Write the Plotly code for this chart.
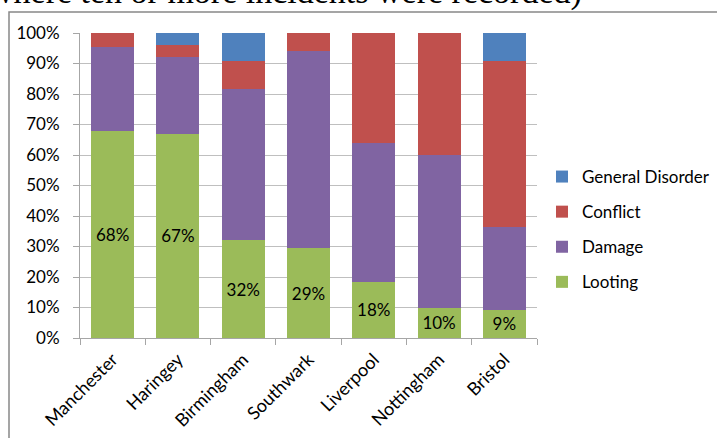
import plotly.graph_objects as go

cities = ["Manchester", "Haringey", "Birmingham", "Southwark", "Liverpool", "Nottingham", "Bristol"]
looting = [68, 67, 32, 29.5, 18.5, 10, 9.2]
damage = [27.3, 25, 49.7, 64.6, 45.3, 50, 27.1]
conflict = [4.7, 4, 9.2, 5.9, 36.2, 40, 54.6]
general_disorder = [0, 4, 9.1, 0, 0, 0, 9.1]
looting_labels = ["68%", "67%", "32%", "29%", "18%", "10%", "9%"]

colors = {
    "Looting": "#9BBB59",
    "Damage": "#8064A2",
    "Conflict": "#C0504D",
    "General Disorder": "#4F81BD",
}

W, H = 717, 438
L, R, T, B = 80, 180, 33, 100
pw, ph = W - L - R, H - T - B

def px_x(p):
    return (p - L) / pw

def px_y(p):
    return (H - B - p) / ph

fig = go.Figure()
fig.add_bar(x=cities, y=looting, name="Looting", marker_color=colors["Looting"],
            text=looting_labels, texttemplate="%{text}", textposition="inside",
            insidetextanchor="middle", textangle=0,
            textfont=dict(family="Lato", size=17, color="#000000"),
            legendgroup="a", legendrank=4)
fig.add_bar(x=cities, y=damage, name="Damage", marker_color=colors["Damage"],
            legendgroup="b", legendrank=3)
fig.add_bar(x=cities, y=conflict, name="Conflict", marker_color=colors["Conflict"],
            legendgroup="c", legendrank=2)
fig.add_bar(x=cities, y=general_disorder, name="General Disorder",
            marker_color=colors["General Disorder"], legendgroup="d", legendrank=1)

fig.update_traces(marker_line_width=0, hoverinfo="skip")

fig.update_layout(
    width=W, height=H,
    margin=dict(l=L, r=R, t=T, b=B, pad=0, autoexpand=False),
    barmode="stack",
    bargap=0.34,
    paper_bgcolor="white",
    plot_bgcolor="white",
    font=dict(family="Lato", size=16, color="#000000"),
    showlegend=True,
    legend=dict(
        x=px_x(542), y=px_y(159), xanchor="left", yanchor="top",
        traceorder="grouped", tracegroupgap=10,
        font=dict(family="Lato", size=17, color="#000000"),
        itemwidth=30, bgcolor="rgba(0,0,0,0)",
    ),
    uniformtext=dict(minsize=17, mode="show"),
)

fig.update_yaxes(
    range=[0, 100], dtick=10, ticksuffix="%", automargin=False,
    showgrid=True, gridcolor="#BFBFBF", gridwidth=1,
    showline=True, linecolor="#A6A6A6", linewidth=1,
    ticks="outside", ticklen=6, tickcolor="#A6A6A6", ticklabelstandoff=10,
    tickfont=dict(family="Lato", size=17, color="#000000"),
    zeroline=False, fixedrange=True,
)
fig.update_xaxes(
    tickangle=-45, showline=True, linecolor="#A6A6A6", linewidth=1, automargin=False,
    ticks="outside", ticklen=6, tickcolor="#A6A6A6", tickson="boundaries",
    ticklabelstandoff=3,
    tickfont=dict(family="Lato", size=18, color="#000000"),
    showgrid=False, fixedrange=True,
)

# outer chart frame (as in the original document crop)
fig.add_shape(type="rect", xref="paper", yref="paper",
              x0=px_x(9), y0=px_y(460), x1=px_x(760), y1=px_y(12),
              line=dict(color="#888888", width=1.5), fillcolor="rgba(0,0,0,0)", layer="below")

fig.add_annotation(
    text="where ten or more incidents were recorded)",
    xref="paper", yref="paper", x=px_x(584), y=px_y(13),
    xanchor="right", yanchor="bottom", showarrow=False,
    font=dict(family="Liberation Serif", size=34, color="#000000"),
)

fig.write_html("out.html", config={"displayModeBar": False},
               post_script="document.body.style.margin='0';document.body.style.padding='0';")
